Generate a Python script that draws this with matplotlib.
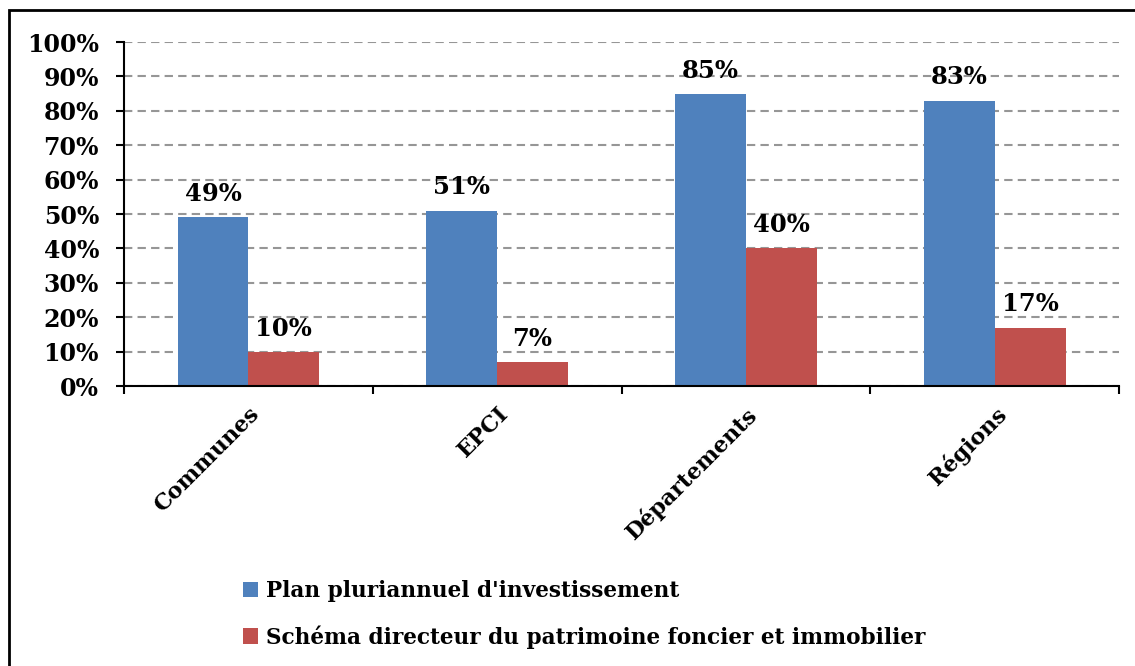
import matplotlib.pyplot as plt
import numpy as np
from matplotlib.patches import Rectangle
from matplotlib.ticker import MultipleLocator, FuncFormatter

# Data
categories = ['Communes', 'EPCI', 'Départements', 'Régions']
ppi = [49, 51, 85, 83]
sdpfi = [10, 7, 40, 17]
series_names = ["Plan pluriannuel d'investissement",
                "Schéma directeur du patrimoine foncier et immobilier"]
colors = ['#4F81BD', '#C0504D']

plt.rcParams['font.family'] = ['DejaVu Serif']
plt.rcParams['font.weight'] = 'bold'

fig = plt.figure(figsize=(11.35, 6.66), dpi=100)
ax = fig.add_axes([0.1093, 0.4204, 0.8766, 0.5165])

x = np.arange(len(categories))
w = 0.285
b1 = ax.bar(x - w / 2, ppi, w, color=colors[0], label=series_names[0], zorder=3)
b2 = ax.bar(x + w / 2, sdpfi, w, color=colors[1], label=series_names[1], zorder=3)

for bars, vals in ((b1, ppi), (b2, sdpfi)):
    for rect, v in zip(bars, vals):
        ax.annotate(f'{v}%', xy=(rect.get_x() + rect.get_width() / 2, v),
                    xytext=(0, 8), textcoords='offset points',
                    ha='center', va='bottom', fontsize=17.5, fontweight='bold')

ax.set_xlim(-0.5, 3.5)
ax.set_ylim(0, 100)
ax.yaxis.set_major_locator(MultipleLocator(10))
ax.yaxis.set_major_formatter(FuncFormatter(lambda v, p: f'{v:.0f}%'))
ax.grid(axis='y', color='#969696', linestyle=(0, (4, 2.5)), linewidth=1.5, zorder=0)

# ticks at category boundaries, labels at centres
ax.set_xticks(np.arange(-0.5, 4, 1))
ax.set_xticklabels([])
ax.set_xticks(x, minor=True)
ax.set_xticklabels(categories, minor=True, rotation=45, ha='right',
                   rotation_mode='anchor', fontsize=16, fontweight='bold')
ax.tick_params(axis='x', which='minor', length=0, pad=12)
ax.tick_params(axis='x', which='major', length=6, width=1.5, direction='out')
ax.tick_params(axis='y', length=6, width=1.5, direction='out', labelsize=17, pad=12)
for lab in ax.get_yticklabels():
    lab.set_fontweight('bold')

for s in ['top', 'right']:
    ax.spines[s].set_visible(False)
ax.spines['left'].set_linewidth(1.5)
ax.spines['bottom'].set_linewidth(1.5)
ax.spines['bottom'].set_zorder(4)

fig.legend(handles=[b1, b2], loc='upper left', bbox_to_anchor=(0.197, 0.158),
           frameon=False, handlelength=0.7, handleheight=0.7,
           handletextpad=0.35, labelspacing=1.05, prop={'weight': 'bold', 'size': 15.6})

# outer frame (cropped on right and bottom)
fig.patches.append(Rectangle((9 / 1135, -0.05), 1.2, 1 - 10 / 666 + 0.05, transform=fig.transFigure,
                             fill=False, edgecolor='black', linewidth=2))

fig.savefig('out.png', dpi=100)
